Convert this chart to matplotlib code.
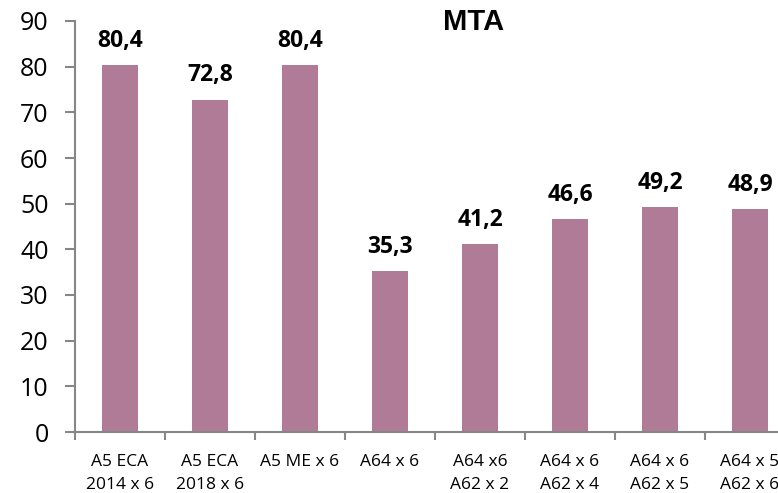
import numpy as np
import matplotlib.pyplot as plt

categories = ['A5 ECA\n2014 x 6', 'A5 ECA\n2018 x 6', 'A5 ME x 6', 'A64 x 6',
              'A64 x6\nA62 x 2', 'A64 x 6\nA62 x 4', 'A64 x 6\nA62 x 5', 'A64 x 5\nA62 x 6']
values = [80.4, 72.8, 80.4, 35.3, 41.2, 46.6, 49.2, 48.9]

bar_color = '#B07B96'
axis_color = '#868686'

fig = plt.figure(figsize=(7.78, 4.93), dpi=100)
# the plot area runs past the right edge, so the last category is cut off
ax = fig.add_axes([75 / 778, 61 / 493, 720 / 778, 411 / 493])

x = np.arange(len(categories))
bars = ax.bar(x, values, width=0.4, color=bar_color)

for xi, v in zip(x, values):
    ax.annotate(f'{v:.1f}'.replace('.', ','), (xi, v), xytext=(0, 13),
                textcoords='offset points', ha='center', va='baseline',
                fontsize=16.5, fontweight='bold', family='Open Sans')

ax.set_ylim(0, 90)
ax.set_yticks(range(0, 91, 10))
ax.set_xlim(-0.5, len(categories) - 0.5)
ax.set_xticks(x)
ax.set_xticklabels(categories, family='Open Sans', fontsize=12.5, linespacing=1.55)
ax.set_xticks(np.arange(-0.5, len(categories), 1), minor=True)
ax.tick_params(axis='x', which='major', length=0, pad=16)
ax.tick_params(axis='x', which='minor', length=6, width=1.5, color=axis_color)
ax.tick_params(axis='y', length=7, width=1.5, color=axis_color, pad=12, labelsize=18)
for lab in ax.get_yticklabels():
    lab.set_family('Open Sans')

for side in ['top', 'right']:
    ax.spines[side].set_visible(False)
for side in ['left', 'bottom']:
    ax.spines[side].set_color(axis_color)
    ax.spines[side].set_linewidth(1.5)

fig.text(474 / 778, 1 - 22.5 / 493, 'MTA', ha='center', va='center',
         fontsize=21, fontweight='bold', family='Liberation Sans')

fig.savefig('out.png', dpi=100)
